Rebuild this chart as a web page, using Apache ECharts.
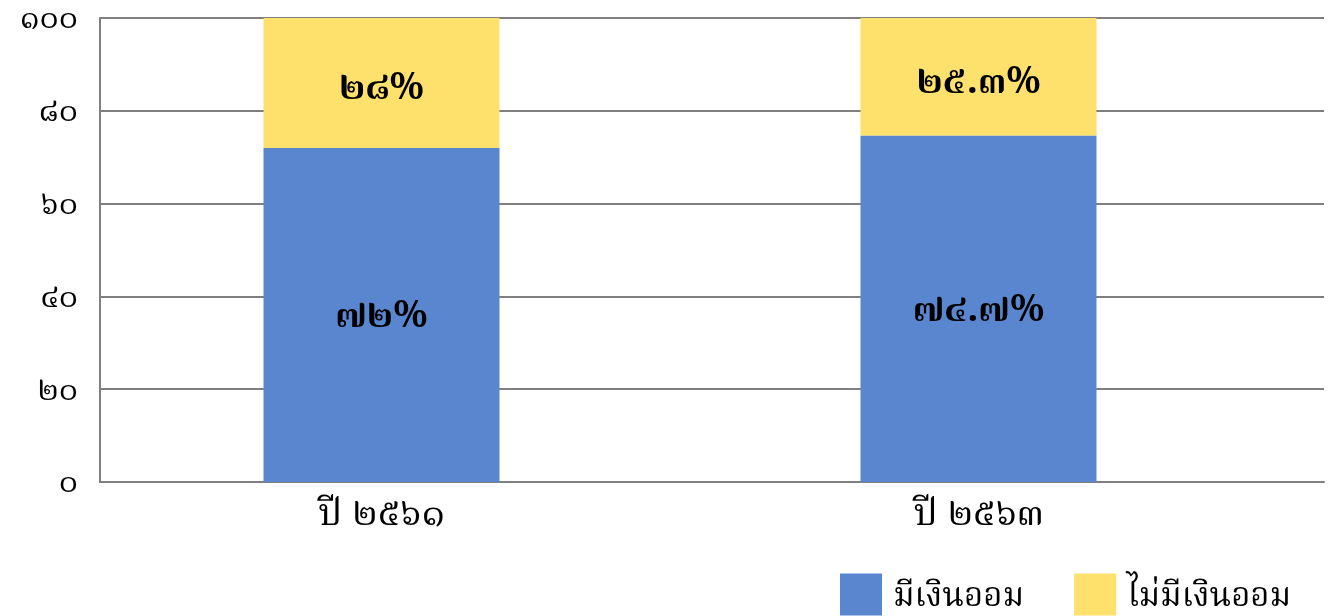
<!DOCTYPE html>
<html><head><meta charset="utf-8">
<script src="https://cdn.jsdelivr.net/npm/echarts@6/dist/echarts.min.js"></script>
<style>html,body{margin:0;padding:0;background:#fff}#c{width:1332px;height:616px}</style>
</head><body><div id="c"></div>
<script>
const categories = ['ปี ๒๕๖๑', 'ปี ๒๕๖๓'];
const seriesNames = ['มีเงินออม', 'ไม่มีเงินออม'];
const savers = [72, 74.7];
const nonSavers = [28, 25.3];
const saverLabels = ['๗๒%', '๗๔.๗%'];
const nonSaverLabels = ['๒๘%', '๒๕.๓%'];
const yTicks = { 0: '๐', 20: '๒๐', 40: '๔๐', 60: '๖๐', 80: '๘๐', 100: '๑๐๐' };

const FONT = "'Noto Serif Thai', 'Norasi', 'Garuda', 'Loma', 'Noto Sans', 'Noto Sans Thai', sans-serif";
const chart = echarts.init(document.getElementById('c'));
const lineStyle = { color: '#7f7f7f', width: 2 };
chart.setOption({
  animation: false,
  textStyle: { fontFamily: FONT },
  legend: {
    bottom: -6, left: 835,
    itemWidth: 42, itemHeight: 42, itemGap: 50,
    formatter: '{t|{name}}',
    textStyle: { fontSize: 33, color: '#000', fontFamily: FONT,
      rich: { t: { fontSize: 33, color: '#000', fontFamily: FONT, padding: [12, 0, 0, 6] } } },
    icon: 'rect',
    data: seriesNames
  },
  grid: [
    { left: 100, top: 18, width: 1224, height: 464 },
    { left: 83, top: 18, width: 1194, height: 464 }
  ],
  xAxis: [
    { type: 'category', gridIndex: 0, data: categories, axisLine: { show: true, lineStyle }, axisTick: { show: false }, axisLabel: { show: false } },
    { type: 'category', gridIndex: 1, data: categories, axisLine: { show: false }, axisTick: { show: false },
      axisLabel: { fontSize: 38, color: '#000', margin: 18, fontFamily: FONT } }
  ],
  yAxis: [
    { type: 'value', gridIndex: 0, min: 0, max: 100, interval: 20,
      axisLine: { show: true, lineStyle }, axisTick: { show: false },
      splitLine: { show: true, lineStyle },
      axisLabel: { fontSize: 32, color: '#000', margin: 22, fontFamily: FONT,
        formatter: v => '{d|' + yTicks[v] + '}',
        rich: { d: { fontSize: 32, color: '#000', fontFamily: FONT, padding: [10, 0, 0, 0] } } } },
    { type: 'value', gridIndex: 1, min: 0, max: 100, show: false }
  ],
  series: [
    { name: seriesNames[0], type: 'bar', stack: 's', xAxisIndex: 1, yAxisIndex: 1, barWidth: 236,
      itemStyle: { color: '#5a86d0' }, data: savers,
      label: { show: true, position: 'inside', fontSize: 38, fontWeight: 'bold', color: '#000', fontFamily: FONT,
        offset: [0, 6], formatter: p => saverLabels[p.dataIndex] } },
    { name: seriesNames[1], type: 'bar', stack: 's', xAxisIndex: 1, yAxisIndex: 1, barWidth: 236,
      itemStyle: { color: '#fee16c' }, data: nonSavers,
      label: { show: true, position: 'inside', fontSize: 38, fontWeight: 'bold', color: '#000', fontFamily: FONT,
        offset: [0, 10], formatter: p => nonSaverLabels[p.dataIndex] } }
  ]
});
</script></body></html>
